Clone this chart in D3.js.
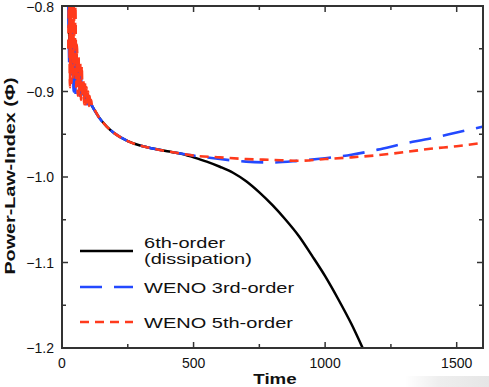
<!DOCTYPE html>
<html>
<head>
<meta charset="utf-8">
<script src="https://cdn.jsdelivr.net/npm/d3@7"></script>
<style>
  body { margin: 0; background: #fff; }
  svg { display: block; font-family: "Liberation Sans", Arial, Helvetica, sans-serif; }
</style>
</head>
<body>
<div id="chart"></div>
<script>
// ---- data ----
// 6th-order (dissipation)
const blackTime  = [26, 30, 34, 38, 42, 46, 50, 55, 60, 65, 70, 76, 82, 88, 94, 100, 108, 118,
                    140, 170, 200, 250, 300, 350, 400, 450, 500, 550, 600, 650, 700, 750, 800,
                    850, 900, 950, 1000, 1050, 1100, 1150];
const blackValue = [-0.81, -0.86, -0.82, -0.86, -0.835, -0.875, -0.855, -0.88, -0.87, -0.89, -0.885,
                    -0.90, -0.898, -0.908, -0.906, -0.912, -0.914, -0.919,
                    -0.930, -0.941, -0.949, -0.958, -0.9635, -0.967, -0.970, -0.9725, -0.977,
                    -0.982, -0.988, -0.995, -1.005, -1.018, -1.033, -1.050, -1.069, -1.092,
                    -1.116, -1.143, -1.172, -1.205];

// WENO 3rd-order
const blueTime  = [24, 28, 32, 36, 40, 44, 48, 52, 56, 60, 64, 68, 72, 76, 80, 85, 90, 95, 100,
                   106, 112, 118, 140, 170, 200, 250, 300, 350, 400, 450, 500, 600, 700, 800,
                   900, 1000, 1100, 1200, 1300, 1400, 1500, 1600];
const blueValue = [-0.80, -0.87, -0.79, -0.88, -0.82, -0.90, -0.84, -0.905, -0.86, -0.90, -0.87,
                   -0.905, -0.88, -0.91, -0.89, -0.912, -0.90, -0.915, -0.908, -0.916, -0.915,
                   -0.919, -0.930, -0.941, -0.949, -0.958, -0.9635, -0.967, -0.970, -0.9725,
                   -0.975, -0.979, -0.982, -0.983, -0.981, -0.978, -0.974, -0.968, -0.961,
                   -0.955, -0.948, -0.941];

// WENO 5th-order
const redTime  = [24, 27, 30, 33, 36, 39, 42, 45, 48, 51, 54, 57, 60, 63, 66, 69, 72, 75, 78, 81,
                  84, 87, 90, 93, 96, 99, 102, 105, 108, 111, 114, 118, 140, 170, 200, 250, 300,
                  350, 400, 450, 500, 600, 700, 800, 900, 1000, 1100, 1200, 1300, 1400, 1500, 1600];
const redValue = [-0.85, -0.78, -0.895, -0.78, -0.89, -0.78, -0.885, -0.79, -0.88, -0.80, -0.895,
                  -0.845, -0.905, -0.86, -0.905, -0.865, -0.91, -0.87, -0.905, -0.885, -0.915,
                  -0.89, -0.915, -0.895, -0.915, -0.90, -0.917, -0.905, -0.917, -0.91, -0.918,
                  -0.919, -0.930, -0.941, -0.949, -0.958, -0.9635, -0.967, -0.970, -0.9725,
                  -0.975, -0.977, -0.979, -0.980, -0.981, -0.979, -0.977, -0.9745, -0.971,
                  -0.967, -0.964, -0.960];

const xMajorTicks = [0, 500, 1000, 1500];
const xMinorTicks = [250, 750, 1250];
const yMajorTicks = [-0.8, -0.9, -1.0, -1.1, -1.2];
const yMinorTicks = [-0.85, -0.95, -1.05, -1.15];

const seriesNames = ["6th-order", "WENO 3rd-order", "WENO 5th-order"];

const width = 489, height = 387;
const plotLeft = 62, plotRight = 483, plotTop = 6, plotBottom = 348;

const svg = d3.select("#chart").append("svg")
  .attr("width", width)
  .attr("height", height);

const defs = svg.append("defs");

// faint screen shadow, bottom right
const grad = defs.append("linearGradient")
  .attr("id", "shade").attr("x1", 0).attr("x2", 1).attr("y1", 0).attr("y2", 0);
grad.append("stop").attr("offset", "0%").attr("stop-color", "#fff");
grad.append("stop").attr("offset", "40%").attr("stop-color", "#eeeeee");
grad.append("stop").attr("offset", "100%").attr("stop-color", "#e6e6e6");
svg.append("rect").attr("x", 405).attr("y", 376).attr("width", 84).attr("height", 11)
  .attr("fill", "url(#shade)");

defs.append("clipPath").attr("id", "plotClip")
  .append("rect").attr("x", plotLeft).attr("y", plotTop)
  .attr("width", plotRight - plotLeft).attr("height", plotBottom - plotTop);

const x = d3.scaleLinear().domain([0, 1600]).range([plotLeft, plotRight]);
const y = d3.scaleLinear().domain([-1.2, -0.8]).range([plotBottom, plotTop]);

const line = d3.line()
  .x(d => x(d[0]))
  .y(d => y(d[1]))
  .curve(d3.curveMonotoneX);

const zip = (a, b) => a.map((t, i) => [t, b[i]]);

const plot = svg.append("g").attr("clip-path", "url(#plotClip)");

plot.append("path")
  .attr("d", line(zip(blackTime, blackValue)))
  .attr("fill", "none").attr("stroke", "#000").attr("stroke-width", 2.5);

plot.append("path")
  .attr("d", line(zip(blueTime, blueValue)))
  .attr("fill", "none").attr("stroke", "#2349ff").attr("stroke-width", 2.6)
  .attr("stroke-dasharray", "22,12");

plot.append("path")
  .attr("d", line(zip(redTime, redValue)))
  .attr("fill", "none").attr("stroke", "#ff3a1c").attr("stroke-width", 2.6)
  .attr("stroke-dasharray", "9,6");

// frame
svg.append("rect")
  .attr("x", plotLeft).attr("y", plotTop)
  .attr("width", plotRight - plotLeft).attr("height", plotBottom - plotTop)
  .attr("fill", "none").attr("stroke", "#333").attr("stroke-width", 2);

// inward ticks on all four sides
const axisG = svg.append("g").attr("stroke", "#333").attr("stroke-width", 1.5);
function xTicks(vals, len) {
  vals.forEach(v => {
    axisG.append("line").attr("x1", x(v)).attr("x2", x(v)).attr("y1", plotBottom).attr("y2", plotBottom - len);
    axisG.append("line").attr("x1", x(v)).attr("x2", x(v)).attr("y1", plotTop).attr("y2", plotTop + len);
  });
}
function yTicks(vals, len) {
  vals.forEach(v => {
    axisG.append("line").attr("y1", y(v)).attr("y2", y(v)).attr("x1", plotLeft).attr("x2", plotLeft + len);
    axisG.append("line").attr("y1", y(v)).attr("y2", y(v)).attr("x1", plotRight).attr("x2", plotRight - len);
  });
}
xTicks(xMajorTicks, 6);
xTicks(xMinorTicks, 4);
yTicks(yMajorTicks, 6);
yTicks(yMinorTicks, 4);

// tick labels
svg.append("g").selectAll("text")
  .data(xMajorTicks)
  .join("text")
  .attr("x", d => x(d))
  .attr("y", 368)
  .attr("text-anchor", "middle")
  .attr("font-size", 14)
  .attr("fill", "#111")
  .text(d => d);

svg.append("g").selectAll("text")
  .data(yMajorTicks)
  .join("text")
  .attr("x", 54)
  .attr("y", d => Math.max(y(d) + 5, 12))
  .attr("text-anchor", "end")
  .attr("font-size", 14)
  .attr("fill", "#111")
  .text(d => d3.format(".1f")(d).replace("-", "\u2212"));

// axis titles (the figure's lettering is wide, so stretch it)
svg.append("text")
  .attr("transform", "translate(275,384) scale(1.25,1)")
  .attr("text-anchor", "middle")
  .attr("font-size", 15)
  .attr("font-weight", "bold")
  .attr("fill", "#111")
  .text("Time");

svg.append("text")
  .attr("transform", "translate(15,176) rotate(-90) scale(1.41,1)")
  .attr("text-anchor", "middle")
  .attr("font-size", 14)
  .attr("font-weight", "bold")
  .attr("fill", "#111")
  .text("Power-Law-Index (\u03A6)");

// legend
const legend = svg.append("g");
const legendRows = [
  { y: 251, color: "#000", dash: null, lines: [[seriesNames[0], 248], ["(dissipation)", 264]] },
  { y: 287, color: "#2349ff", dash: "22,12", lines: [[seriesNames[1], 293]] },
  { y: 322, color: "#ff3a1c", dash: "9,6", lines: [[seriesNames[2], 328]] }
];
legendRows.forEach(r => {
  legend.append("line")
    .attr("x1", 80).attr("x2", 133).attr("y1", r.y).attr("y2", r.y)
    .attr("stroke", r.color).attr("stroke-width", 2.6)
    .attr("stroke-dasharray", r.dash);
  r.lines.forEach(([txt, by]) => {
    legend.append("text")
      .attr("transform", `translate(144,${by}) scale(1.43,1)`)
      .attr("font-size", 14)
      .attr("fill", "#111")
      .text(txt);
  });
});
</script>
</body>
</html>
